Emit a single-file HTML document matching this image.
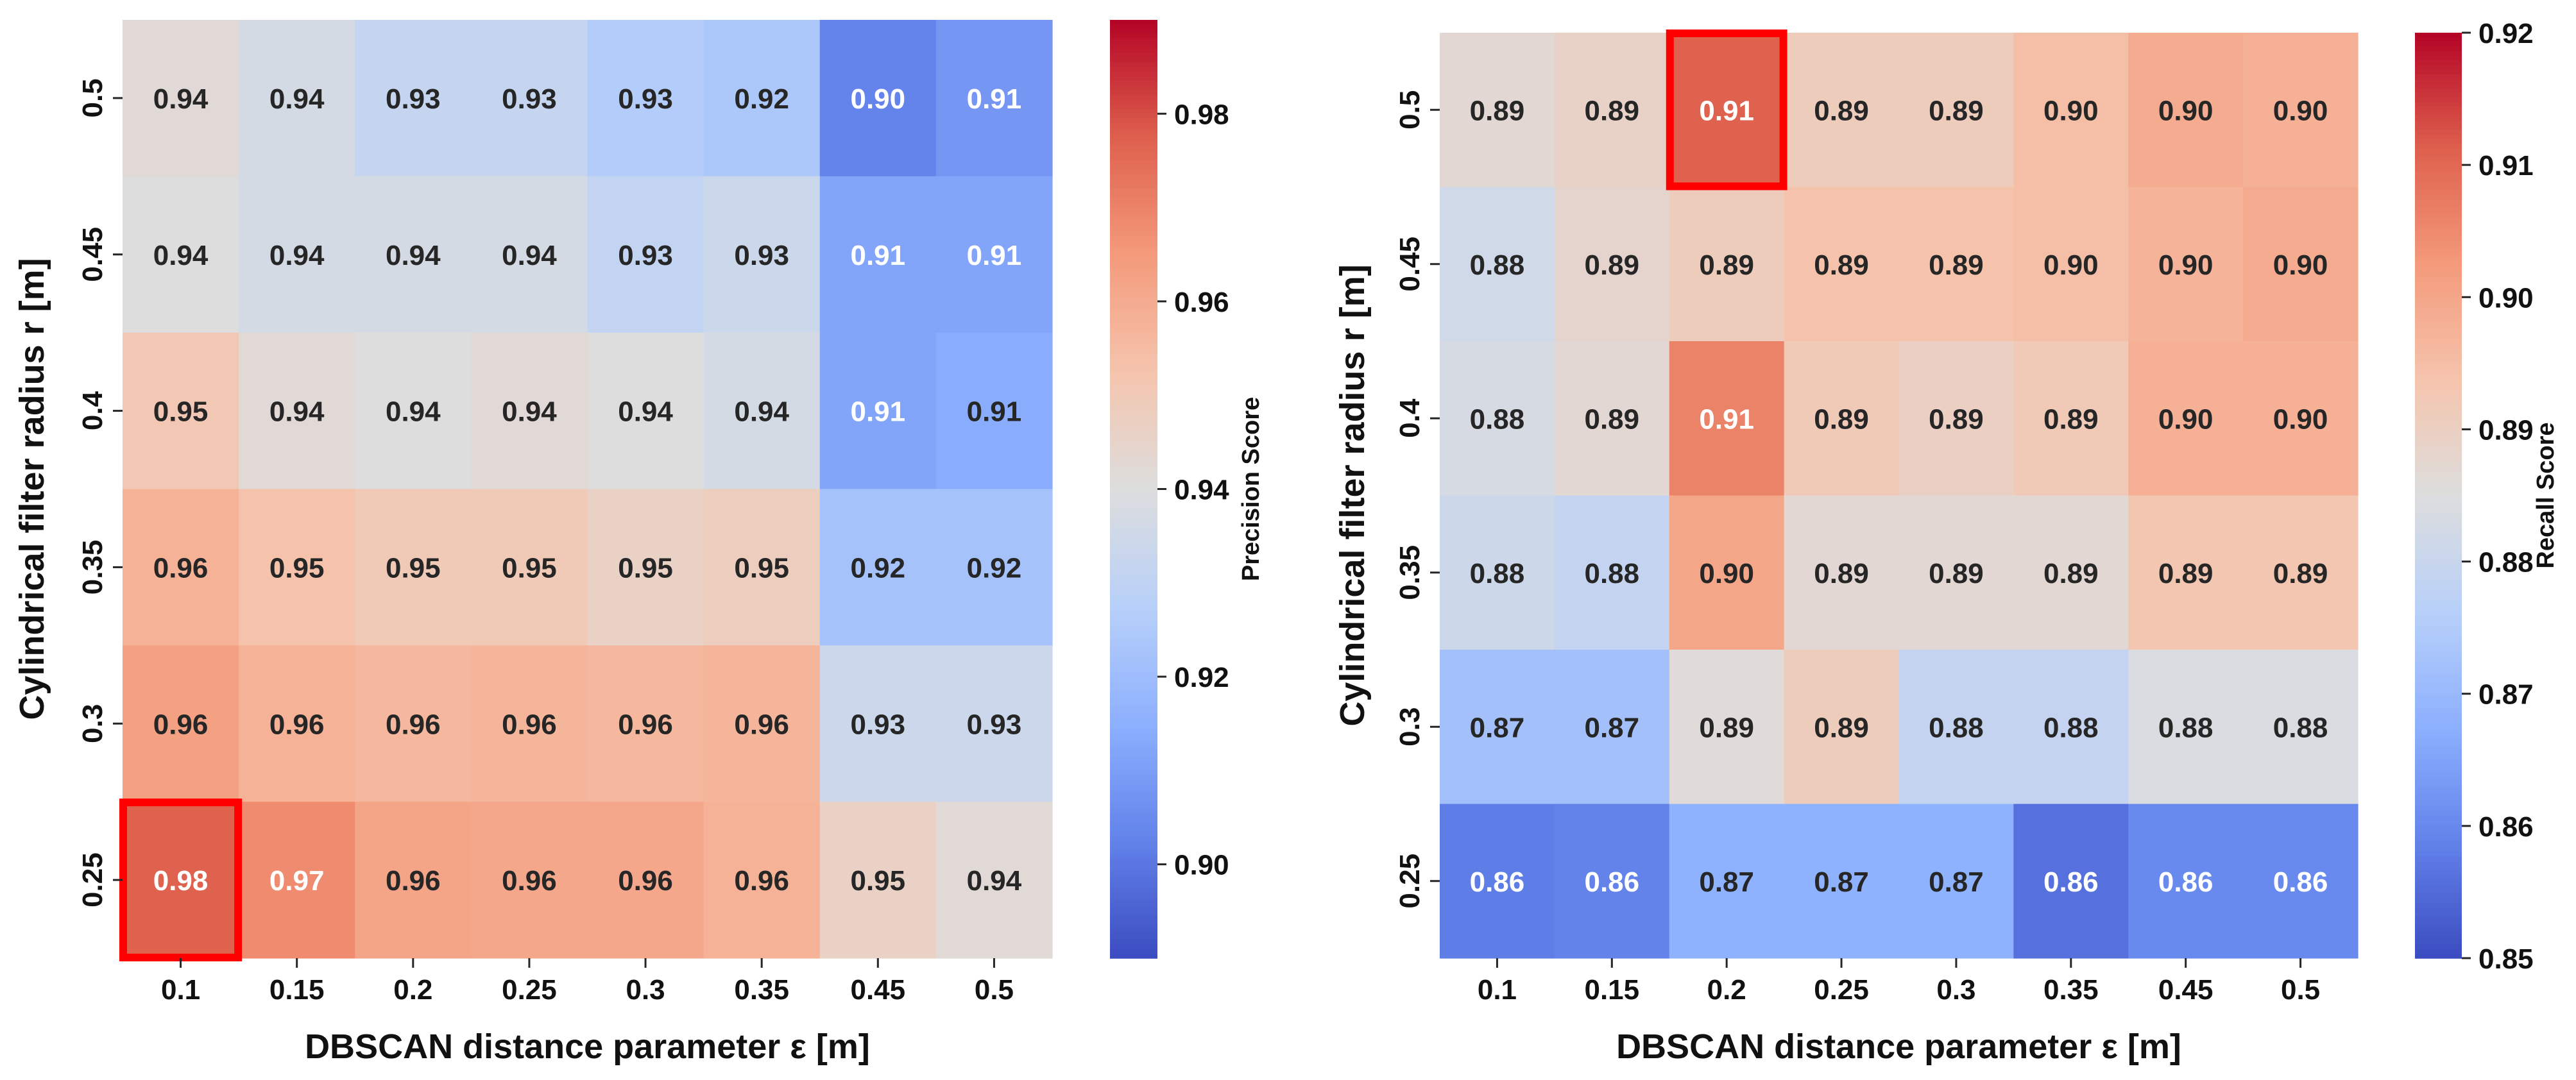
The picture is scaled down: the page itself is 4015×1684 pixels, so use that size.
<!DOCTYPE html>
<html><head><meta charset="utf-8">
<style>
html,body{margin:0;padding:0;background:#fff;}
svg{display:block;font-family:"Liberation Sans",Arial,sans-serif;font-weight:bold;}
</style></head>
<body>
<svg id="fig" width="4015" height="1684" viewBox="0 0 4015 1684" xmlns="http://www.w3.org/2000/svg"></svg>
<script>
const xCats = ["0.1","0.15","0.2","0.25","0.3","0.35","0.45","0.5"];
const yCats = ["0.5","0.45","0.4","0.35","0.3","0.25"];
const precisionValues = [
 [0.942,0.937,0.932,0.932,0.926,0.924,0.903,0.908],
 [0.940,0.937,0.937,0.937,0.931,0.934,0.912,0.912],
 [0.951,0.942,0.940,0.942,0.940,0.937,0.912,0.914],
 [0.958,0.953,0.950,0.950,0.946,0.948,0.922,0.922],
 [0.963,0.958,0.956,0.957,0.956,0.957,0.934,0.934],
 [0.977,0.968,0.962,0.961,0.961,0.958,0.946,0.942]
];
const recallValues = [
 [0.887,0.889,0.911,0.891,0.891,0.895,0.899,0.898],
 [0.882,0.888,0.891,0.894,0.894,0.895,0.897,0.899],
 [0.883,0.887,0.906,0.892,0.890,0.892,0.898,0.898],
 [0.881,0.879,0.900,0.887,0.887,0.887,0.893,0.893],
 [0.872,0.872,0.886,0.891,0.879,0.879,0.884,0.884],
 [0.858,0.859,0.868,0.868,0.868,0.856,0.860,0.860]
];
const precisionTicks = [0.90,0.92,0.94,0.96,0.98];
const recallTicks = [0.85,0.86,0.87,0.88,0.89,0.90,0.91,0.92];
const precisionBest = [0,5];
const recallBest = [2,0];

const NS="http://www.w3.org/2000/svg";
const svg=document.getElementById('fig');
function mk(tag,attrs,parent){const e=document.createElementNS(NS,tag);for(const k in attrs)e.setAttribute(k,attrs[k]);(parent||svg).appendChild(e);return e;}
const cmapPts=[[0,[59,76,192]],[0.125,[98,130,234]],[0.25,[141,176,254]],[0.375,[184,208,249]],[0.5,[221,221,221]],[0.625,[245,196,173]],[0.75,[244,154,123]],[0.875,[222,96,77]],[1,[180,4,38]]];
function cmap(t){t=Math.max(0,Math.min(1,t));for(let i=1;i<cmapPts.length;i++){if(t<=cmapPts[i][0]){const a=cmapPts[i-1],b=cmapPts[i];const f=(t-a[0])/(b[0]-a[0]);return a[1].map((v,j)=>Math.round(v+(b[1][j]-v)*f));}}return cmapPts[8][1];}
function lum(c){const l=c.map(v=>{v/=255;return v<=0.03928?v/12.92:Math.pow((v+0.055)/1.055,2.4);});return 0.2126*l[0]+0.7152*l[1]+0.0722*l[2];}

function heatmap(o){
  const g=mk('g',{});
  
  
  const cw=(o.x1-o.x0)/xCats.length, ch=(o.y1-o.y0)/yCats.length;
  const xs=i=>o.x0+i*cw, ys=j=>o.y0+j*ch;
  const norm=v=>(v-o.vmin)/(o.vmax-o.vmin);
  o.values.forEach((row,j)=>row.forEach((v,i)=>{
    const c=cmap(norm(v));
    const r=mk('rect',{x:xs(i),y:ys(j),width:cw+0.6,height:ch+0.6,fill:`rgb(${c})`},g);
    
    
    const t=mk('text',{x:xs(i)+cw/2,y:ys(j)+ch/2+16,'text-anchor':'middle','font-size':44,fill:lum(c)>0.408?'#262626':'#ffffff'},g);
    t.textContent=v.toFixed(2);
    
    
  }));
  const hb=mk('rect',{x:xs(o.best[0])+1,y:ys(o.best[1])+1,width:cw-2,height:ch-2,fill:'none',stroke:'#ff0000','stroke-width':12},g);
  
  
  xCats.forEach((c,i)=>{
    const cx=xs(i)+cw/2;
    mk('line',{x1:cx,x2:cx,y1:o.y1,y2:o.y1+15,stroke:'#262626','stroke-width':3},g);
    const t=mk('text',{x:cx,y:1558,'text-anchor':'middle','font-size':44,fill:'#111'},g);
    t.textContent=c;
    
    
  });
  yCats.forEach((c,j)=>{
    const cy=ys(j)+ch/2;
    mk('line',{x1:o.x0-15,x2:o.x0,y1:cy,y2:cy,stroke:'#262626','stroke-width':3},g);
    const t=mk('text',{x:o.x0-32,y:cy,'text-anchor':'middle','font-size':44,fill:'#111',transform:`rotate(-90 ${o.x0-32} ${cy})`},g);
    t.textContent=c;
    
    
  });
  const xl=mk('text',{x:(o.x0+o.x1)/2,y:1650,'text-anchor':'middle','font-size':54,fill:'#111'},g);
  xl.textContent='DBSCAN distance parameter ε [m]';
  
  
  const ylx=o.ylabX, yly=(o.y0+o.y1)/2;
  const yl=mk('text',{x:ylx,y:yly,'text-anchor':'middle','font-size':54,fill:'#111',transform:`rotate(-90 ${ylx} ${yly})`},g);
  yl.textContent='Cylindrical filter radius r [m]';
  
  
  const cb=mk('g',{},g);
  
  
  const steps=200, hgt=o.y1-o.y0;
  for(let k=0;k<steps;k++){
    const c=cmap(1-(k+0.5)/steps);
    mk('rect',{x:o.cbx0,y:o.y0+k*hgt/steps,width:o.cbx1-o.cbx0,height:hgt/steps+0.8,fill:`rgb(${c})`},cb);
  }
  const cy=v=>o.y1-norm(v)*hgt;
  o.ticks.forEach(v=>{
    const y=cy(v);
    mk('line',{x1:o.cbx1,x2:o.cbx1+14,y1:y,y2:y,stroke:'#262626','stroke-width':3},cb);
    const t=mk('text',{x:o.cbx1+26,y:y+16,'font-size':44,fill:'#111'},cb);
    t.textContent=v.toFixed(2);
    
    
  });
  const lx=o.cbLabX, ly=(o.y0+o.y1)/2;
  const cl=mk('text',{x:lx,y:ly,'text-anchor':'middle','font-size':38,fill:'#111',transform:`rotate(-90 ${lx} ${ly})`},cb);
  cl.textContent=o.cbLabel;
  
  
}
heatmap({name:'precision-heatmap',values:precisionValues,x0:191,x1:1640,y0:31,y1:1494,vmin:0.89,vmax:0.99,best:precisionBest,ticks:precisionTicks,cbx0:1730,cbx1:1804,cbLabX:1962,cbLabel:'Precision Score',ylabX:68});
heatmap({name:'recall-heatmap',values:recallValues,x0:2244,x1:3675,y0:51,y1:1494,vmin:0.85,vmax:0.92,best:recallBest,ticks:recallTicks,cbx0:3764,cbx1:3837,cbLabX:3980,cbLabel:'Recall Score',ylabX:2126});
</script>
</body></html>
